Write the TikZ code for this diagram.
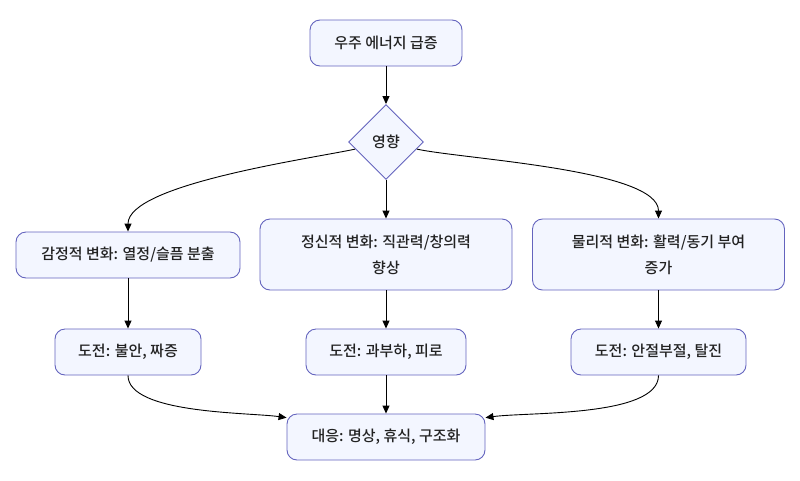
\documentclass[tikz,border=0pt]{standalone}
\usepackage{fontspec}
\setmainfont{Noto Sans CJK KR}[UprightFont=* Medium]
\usetikzlibrary{shapes.geometric,arrows.meta}
\definecolor{boxfill}{RGB}{243,246,255}
\definecolor{boxline}{RGB}{100,100,190}
\definecolor{txt}{RGB}{34,34,34}
\begin{document}
\begin{tikzpicture}[x=1pt,y=-1pt,
  font=\fontsize{15}{26}\selectfont,
  box/.style={draw=boxline,fill=boxfill,line width=0.9pt,rounded corners=10pt,
    text=txt,align=center,inner sep=0pt,minimum height=46pt},
  dec/.style={draw=boxline,fill=boxfill,line width=0.9pt,diamond,aspect=1,
    text=txt,inner sep=0pt,minimum width=75pt,minimum height=75pt},
  arr/.style={draw=black,line width=0.9pt,-{Triangle[length=8pt,width=7pt]}}]
\useasboundingbox (0,0) rectangle (800,480);
\node[box,minimum width=152pt] (top) at (386,43) {우주 에너지 급증};
\node[dec] (dia) at (386,142) {영향};
\node[box,minimum width=224pt] (emo) at (128,255) {감정적 변화: 열정/슬픔 분출};
\node[box,minimum width=252pt,minimum height=71pt] (men) at (386,254.5) {정신적 변화: 직관력/창의력\\향상};
\node[box,minimum width=252pt,minimum height=71pt] (phy) at (658.5,254.5) {물리적 변화: 활력/동기 부여\\증가};
\node[box,minimum width=146pt] (c1) at (128,352) {도전: 불안, 짜증};
\node[box,minimum width=160pt] (c2) at (386,352) {도전: 과부하, 피로};
\node[box,minimum width=175pt] (c3) at (658.5,352) {도전: 안절부절, 탈진};
\node[box,minimum width=198pt] (resp) at (386,437) {대응: 명상, 휴식, 구조화};
\draw[arr] (top) -- (dia);
\draw[arr] (dia) -- (men);
\draw[arr] (dia.193) to[out=192,in=90,looseness=0.5] (emo.north);
\draw[arr] (dia.347) to[out=-12,in=90,looseness=0.5] (phy.north);
\draw[arr] (emo) -- (c1);
\draw[arr] (men) -- (c2);
\draw[arr] (phy) -- (c3);
\draw[arr] (c1.south) to[out=-90,in=172,looseness=0.6] (resp.169);
\draw[arr] (c2) -- (resp);
\draw[arr] (c3.south) to[out=-90,in=8,looseness=0.6] (resp.11);
\end{tikzpicture}
\end{document}
